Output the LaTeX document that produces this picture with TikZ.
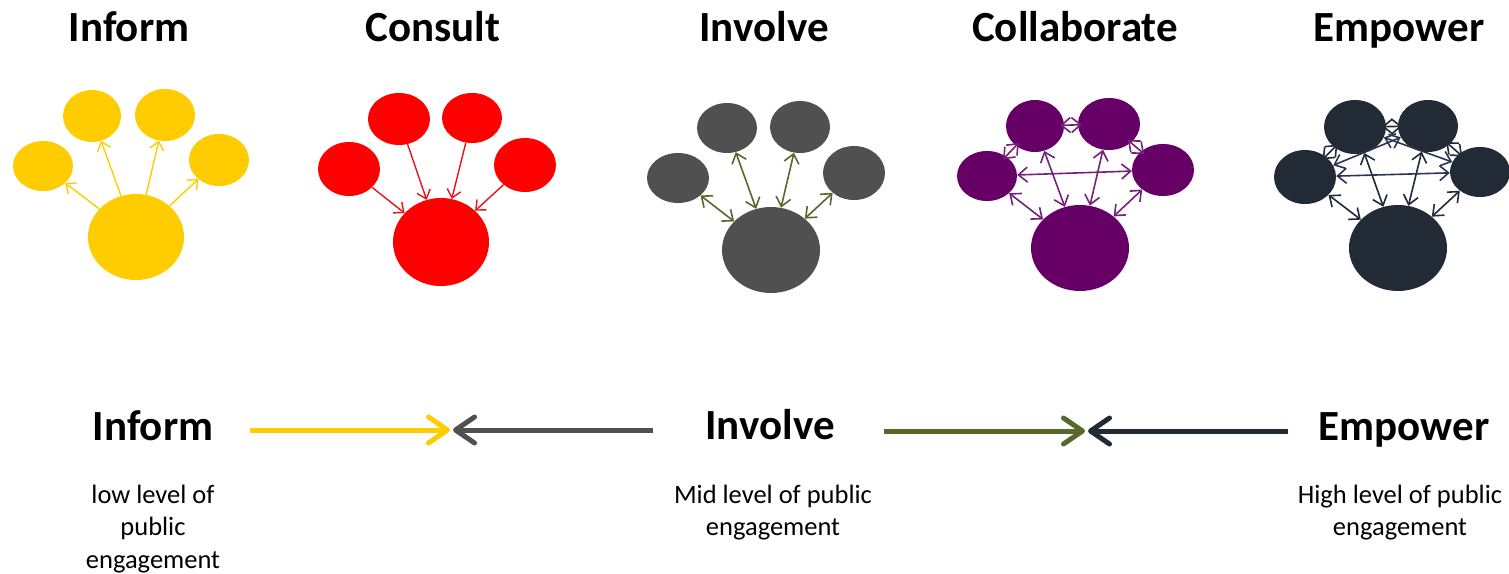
\documentclass[tikz,border=0pt]{standalone}
\usepackage{fontspec}
\setmainfont{Carlito}
\usetikzlibrary{shapes.geometric,arrows.meta}
\definecolor{cY}{HTML}{FFCC00}
\definecolor{cR}{HTML}{FF0000}
\definecolor{cRa}{HTML}{E8141B}
\definecolor{cG}{HTML}{505050}
\definecolor{cOl}{HTML}{56692B}
\definecolor{cP}{HTML}{660066}
\definecolor{cPa}{HTML}{75207A}
\definecolor{cN}{HTML}{222A35}
\definecolor{cNa}{HTML}{2A3650}
\tikzset{
  ell/.style={ellipse, inner sep=0pt, draw=none},
  ttl/.style={anchor=base, inner sep=0pt, font=\fontsize{43pt}{50pt}\selectfont\bfseries},
  sub/.style={anchor=base, inner sep=0pt, font=\fontsize{26.5pt}{33pt}\selectfont},
  ca/.style={line width=1.4pt, -{Straight Barb[length=8pt,width=14pt]}},
  cab/.style={line width=1.6pt, {Straight Barb[length=9pt,width=15pt]}-{Straight Barb[length=9pt,width=15pt]}},
  shortab/.style={cab, shorten <=-4pt, shorten >=-4pt},
  bigarrow/.style={line width=5pt, -{Straight Barb[length=19pt,width=26pt,round]}},
}
\begin{document}
\begin{tikzpicture}[x=1pt,y=-1pt]
\useasboundingbox (0,0) rectangle (1509,573);
% titles
\node[ttl] (t1) at (129,41) {Inform};
\node[ttl] (t2) at (433,41) {Consult};
\node[ttl] (t3) at (764,41) {Involve};
\node[ttl] (t4) at (1075,41) {Collaborate};
\node[ttl] (t5) at (1399,41) {Empower};
% Inform cluster
\node[ell, fill=cY, minimum width=60pt, minimum height=50pt] (iL) at (43,166) {};
\node[ell, fill=cY, minimum width=58pt, minimum height=52pt] (iTL) at (92,116) {};
\node[ell, fill=cY, minimum width=60pt, minimum height=52pt] (iTR) at (165,115) {};
\node[ell, fill=cY, minimum width=60pt, minimum height=52pt] (iR) at (219,160) {};
\node[ell, fill=cY, minimum width=96pt, minimum height=86pt] (iB) at (136,237) {};
\draw[ca, cY] (iB) -- (iL);
\draw[ca, cY] (iB) -- (iTL);
\draw[ca, cY] (iB) -- (iTR);
\draw[ca, cY] (iB) -- (iR);
% Consult cluster
\node[ell, fill=cR, minimum width=62pt, minimum height=54pt] (cL) at (349,169) {};
\node[ell, fill=cR, minimum width=62pt, minimum height=52pt] (cTL) at (399,119) {};
\node[ell, fill=cR, minimum width=60pt, minimum height=50pt] (cTR) at (472,118) {};
\node[ell, fill=cR, minimum width=62pt, minimum height=54pt] (cRt) at (525,165) {};
\node[ell, fill=cR, minimum width=96pt, minimum height=88pt] (cB) at (441,242) {};
\draw[ca, cRa] (cL) -- (cB);
\draw[ca, cRa] (cTL) -- (cB);
\draw[ca, cRa] (cTR) -- (cB);
\draw[ca, cRa] (cRt) -- (cB);
% Involve cluster
\node[ell, fill=cG, minimum width=62pt, minimum height=50pt] (vL) at (678,178) {};
\node[ell, fill=cG, minimum width=60pt, minimum height=50pt] (vTL) at (727,128) {};
\node[ell, fill=cG, minimum width=60pt, minimum height=52pt] (vTR) at (800,127) {};
\node[ell, fill=cG, minimum width=62pt, minimum height=54pt] (vR) at (854,173) {};
\node[ell, fill=cG, minimum width=98pt, minimum height=86pt] (vB) at (771,250) {};
\draw[cab, cOl] (vL) -- (vB);
\draw[cab, cOl] (vTL) -- (vB);
\draw[cab, cOl] (vTR) -- (vB);
\draw[cab, cOl] (vR) -- (vB);
% Collaborate cluster
\node[ell, fill=cP, minimum width=60pt, minimum height=50pt] (lL) at (987,176) {};
\node[ell, fill=cP, minimum width=58pt, minimum height=52pt] (lTL) at (1035,126) {};
\node[ell, fill=cP, minimum width=62pt, minimum height=52pt] (lTR) at (1109,124) {};
\node[ell, fill=cP, minimum width=62pt, minimum height=52pt] (lR) at (1163,170) {};
\node[ell, fill=cP, minimum width=98pt, minimum height=86pt] (lB) at (1080,248) {};
\draw[cab, cPa] (lL) -- (lB);
\draw[cab, cPa] (lTL) -- (lB);
\draw[cab, cPa] (lTR) -- (lB);
\draw[cab, cPa] (lR) -- (lB);
\draw[cab, cPa] (lL) -- (lR);
\draw[shortab, cPa] (lTL) -- (lTR);
\draw[shortab, cPa] (lTL) -- (lL);
\draw[shortab, cPa] (lTR) -- (lR);
% Empower cluster
\node[ell, fill=cN, minimum width=62pt, minimum height=54pt] (eL) at (1305,177) {};
\node[ell, fill=cN, minimum width=62pt, minimum height=54pt] (eTL) at (1355,127) {};
\node[ell, fill=cN, minimum width=60pt, minimum height=52pt] (eTR) at (1428,126) {};
\node[ell, fill=cN, minimum width=60pt, minimum height=50pt] (eR) at (1480,172) {};
\node[ell, fill=cN, minimum width=98pt, minimum height=86pt] (eB) at (1398,248) {};
\draw[cab, cN] (eL) -- (eB);
\draw[cab, cN] (eTL) -- (eB);
\draw[cab, cN] (eTR) -- (eB);
\draw[cab, cN] (eR) -- (eB);
\draw[cab, cNa] (eL) -- (eR);
\draw[shortab, cN] (eTL) -- (eTR);
\draw[shortab, cN] (eTL) -- (eL);
\draw[shortab, cN] (eTR) -- (eR);
\draw[cab, cNa] (eTL) -- (eR);
\draw[cab, cNa] (eTR) -- (eL);
% bottom scale
\node[ttl] (b1) at (153,440) {Inform};
\node[ttl] (b2) at (770,439) {Involve};
\node[ttl] (b3) at (1404,440) {Empower};
\node[sub] (s1a) at (153,503) {low level of};
\node[sub] (s1b) at (153,535) {public};
\node[sub] (s1c) at (153,568) {engagement};
\node[sub] (s2a) at (773,503) {Mid level of public};
\node[sub] (s2b) at (773,535) {engagement};
\node[sub] (s3a) at (1400,503) {High level of public};
\node[sub] (s3b) at (1400,535) {engagement};
\coordinate (ya) at (250,430);
\coordinate (yb) at (450,430);
\coordinate (ga) at (653,430);
\coordinate (gb) at (453,430);
\coordinate (oa) at (884,431);
\coordinate (ob) at (1085,431);
\coordinate (na) at (1288,431);
\coordinate (nb) at (1088,431);
\draw[bigarrow, cY] (ya) -- (yb);
\draw[bigarrow, cG] (ga) -- (gb);
\draw[bigarrow, cOl] (oa) -- (ob);
\draw[bigarrow, cN] (na) -- (nb);
\end{tikzpicture}
\end{document}
